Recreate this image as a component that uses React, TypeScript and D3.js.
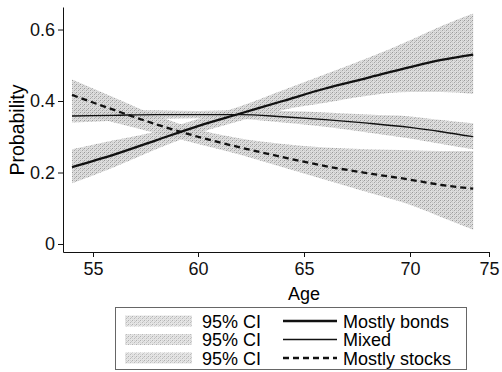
import React, { useEffect, useRef } from 'react';
import * as d3 from 'd3';

const ages = [54, 56, 58, 60, 62, 64, 66, 68, 70, 72, 74];

const bondsMean = [0.215, 0.25, 0.29, 0.33, 0.365, 0.4, 0.435, 0.465, 0.495, 0.515, 0.53];
const bondsLow = [0.17, 0.215, 0.265, 0.31, 0.345, 0.375, 0.395, 0.415, 0.425, 0.425, 0.42];
const bondsHigh = [0.265, 0.29, 0.315, 0.35, 0.385, 0.43, 0.475, 0.52, 0.57, 0.61, 0.645];

const mixedMean = [0.358, 0.36, 0.362, 0.362, 0.362, 0.356, 0.348, 0.338, 0.326, 0.314, 0.3];
const mixedLow = [0.34, 0.345, 0.35, 0.352, 0.35, 0.34, 0.328, 0.312, 0.295, 0.28, 0.265];
const mixedHigh = [0.378, 0.375, 0.374, 0.372, 0.374, 0.372, 0.368, 0.362, 0.357, 0.347, 0.338];

const stocksMean = [0.417, 0.375, 0.335, 0.3, 0.27, 0.243, 0.218, 0.198, 0.18, 0.165, 0.155];
const stocksLow = [0.37, 0.34, 0.31, 0.28, 0.25, 0.215, 0.18, 0.145, 0.11, 0.075, 0.04];
const stocksHigh = [0.46, 0.41, 0.36, 0.32, 0.295, 0.28, 0.27, 0.265, 0.262, 0.26, 0.26];

const ageTicks = [55, 60, 65, 70, 75];
const probTicks = [0, 0.2, 0.4, 0.6];

const seriesNames = ['Mostly bonds', 'Mixed', 'Mostly stocks'];
const font = '"Liberation Sans", Arial, sans-serif';

const App = () => {
  const ref = useRef<SVGSVGElement>(null);

  useEffect(() => {
    if (!ref.current) return;
    const svg = d3.select(ref.current);
    svg.selectAll('*').remove();

    // the printed age axis is not evenly spaced at its right end, so a piecewise scale
    const x = d3
      .scaleLinear()
      .domain([53.57, 55, 60, 65, 70, 75])
      .range([63, 93, 198, 304, 410, 489]);
    const y = d3.scaleLinear().domain([-0.0224, 0.663]).range([252, 7]);

    const defs = svg.append('defs');
    const pat = defs
      .append('pattern')
      .attr('id', 'stipple')
      .attr('width', 4)
      .attr('height', 4)
      .attr('patternUnits', 'userSpaceOnUse');
    pat.append('rect').attr('width', 4).attr('height', 4).attr('fill', '#dadada');
    [
      [0, 0, '#8e8e8e'],
      [2, 2, '#9c9c9c'],
      [2, 0, '#bcbcbc'],
      [0, 2, '#c2c2c2'],
      [1, 3, '#cacaca'],
      [3, 1, '#b0b0b0'],
    ].forEach(([px, py, c]) =>
      pat
        .append('rect')
        .attr('x', px as number)
        .attr('y', py as number)
        .attr('width', 1)
        .attr('height', 1)
        .attr('fill', c as string),
    );

    const bands = [
      [bondsLow, bondsHigh],
      [mixedLow, mixedHigh],
      [stocksLow, stocksHigh],
    ];
    const means = [bondsMean, mixedMean, stocksMean];
    const widths = [2.3, 1.3, 2.3];
    const dashes = ['none', 'none', '6,4'];

    const area = d3
      .area<number>()
      .x((i) => x(ages[i]))
      .curve(d3.curveMonotoneX);
    const idx = d3.range(ages.length);

    bands.forEach(([lo, hi]) => {
      svg
        .append('path')
        .attr('fill', 'url(#stipple)')
        .attr('opacity', 0.9)
        .attr('d', area.y0((i) => y(lo[i])).y1((i) => y(hi[i]))(idx));
    });

    means.forEach((m, k) => {
      const line = d3
        .line<number>()
        .x((i) => x(ages[i]))
        .y((i) => y(m[i]))
        .curve(d3.curveMonotoneX);
      svg
        .append('path')
        .attr('fill', 'none')
        .attr('stroke', '#111')
        .attr('stroke-width', widths[k])
        .attr('stroke-dasharray', dashes[k])
        .attr('d', line(idx));
    });

    const xAxis = svg
      .append('g')
      .attr('transform', 'translate(0,252)')
      .call(d3.axisBottom(x).tickValues(ageTicks).tickSize(5).tickSizeOuter(0).tickPadding(5));
    const yAxis = svg
      .append('g')
      .attr('transform', 'translate(63,0)')
      .call(
        d3
          .axisLeft(y)
          .tickValues(probTicks)
          .tickSize(5)
          .tickSizeOuter(0)
          .tickPadding(3)
          .tickFormat((d) => (+d === 0 ? '0' : (+d).toFixed(1))),
      );
    [xAxis, yAxis].forEach((g) => {
      g.selectAll('text').attr('font-family', font).attr('font-size', 18).attr('fill', '#111');
      g.selectAll('line,path').attr('stroke', '#111');
    });

    svg
      .append('text')
      .attr('x', 304)
      .attr('y', 300)
      .attr('text-anchor', 'middle')
      .attr('font-family', font)
      .attr('font-size', 18)
      .text('Age');
    svg
      .append('text')
      .attr('transform', 'translate(24,130) rotate(-90)')
      .attr('text-anchor', 'middle')
      .attr('font-family', font)
      .attr('font-size', 19.5)
      .text('Probability');

    // legend
    const lg = svg.append('g');
    lg.append('rect')
      .attr('x', 115.5)
      .attr('y', 307.5)
      .attr('width', 351)
      .attr('height', 62)
      .attr('fill', 'white')
      .attr('stroke', '#666');
    seriesNames.forEach((name, k) => {
      const cy = 321 + k * 18.5;
      lg.append('rect')
        .attr('x', 125)
        .attr('y', cy - 5.5)
        .attr('width', 67)
        .attr('height', 11)
        .attr('fill', 'url(#stipple)')
        .attr('opacity', 0.7);
      lg.append('text')
        .attr('x', 202)
        .attr('y', cy + 6.5)
        .attr('font-family', font)
        .attr('font-size', 18)
        .text('95% CI');
      lg.append('line')
        .attr('x1', 283)
        .attr('x2', 337)
        .attr('y1', cy)
        .attr('y2', cy)
        .attr('stroke', '#111')
        .attr('stroke-width', widths[k])
        .attr('stroke-dasharray', dashes[k]);
      lg.append('text')
        .attr('x', 343)
        .attr('y', cy + 6.5)
        .attr('font-family', font)
        .attr('font-size', 18)
        .text(name);
    });
  }, []);

  return (
    <svg
      ref={ref}
      width={502}
      height={372}
      style={{ position: 'absolute', left: 0, top: 0, background: 'white' }}
    />
  );
};

export default App;
